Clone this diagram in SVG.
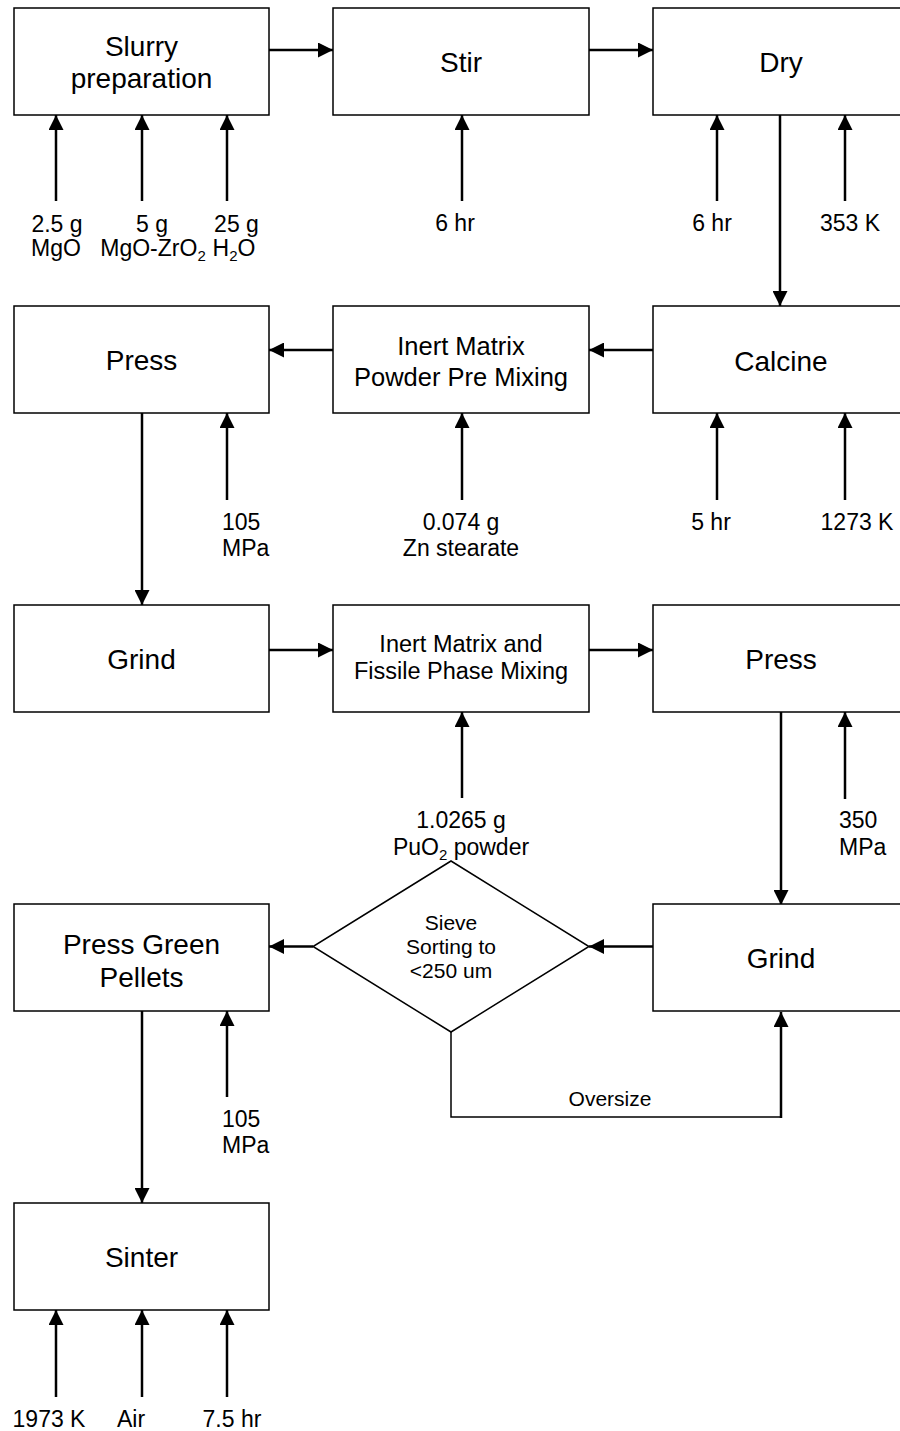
<svg xmlns="http://www.w3.org/2000/svg" width="900" height="1431" viewBox="0 0 900 1431">
<style>
text{font-family:"Liberation Sans",Arial,sans-serif;fill:#000}
.box{fill:#fff;stroke:#000;stroke-width:1.5}
.big{font-size:28px;text-anchor:middle}
.mid{font-size:25.5px;text-anchor:middle}
.sm{font-size:23.5px;text-anchor:middle}
.lab{font-size:23px}
.c{text-anchor:middle}
.dia{font-size:21px;text-anchor:middle}
.arr{stroke:#000;stroke-width:2.5;fill:none;marker-end:url(#ah)}
.thin{stroke:#000;stroke-width:1.5;fill:none}
</style>
<defs>
<marker id="ah" markerUnits="userSpaceOnUse" markerWidth="15" markerHeight="15" refX="15" refY="7.5" orient="auto" viewBox="0 0 15 15">
<path d="M0,0 L15,7.5 L0,15 z" fill="#000"/>
</marker>
</defs>
<rect width="900" height="1431" fill="#fff"/>

<g id="connectors">
<line class="arr" x1="269" y1="50" x2="333" y2="50"/>
<line class="arr" x1="589" y1="50" x2="653" y2="50"/>
<line class="arr" x1="56" y1="201" x2="56" y2="115"/>
<line class="arr" x1="142" y1="201" x2="142" y2="115"/>
<line class="arr" x1="227" y1="201" x2="227" y2="115"/>
<line class="arr" x1="462" y1="201" x2="462" y2="115"/>
<line class="arr" x1="717" y1="201" x2="717" y2="115"/>
<line class="arr" x1="845" y1="201" x2="845" y2="115"/>
<line class="arr" x1="780" y1="115" x2="780" y2="306"/>

<line class="arr" x1="653" y1="350" x2="589" y2="350"/>
<line class="arr" x1="333" y1="350" x2="269" y2="350"/>
<line class="arr" x1="227" y1="500" x2="227" y2="413"/>
<line class="arr" x1="462" y1="500" x2="462" y2="413"/>
<line class="arr" x1="717" y1="500" x2="717" y2="413"/>
<line class="arr" x1="845" y1="500" x2="845" y2="413"/>
<line class="arr" x1="142" y1="413" x2="142" y2="605"/>

<line class="arr" x1="269" y1="650" x2="333" y2="650"/>
<line class="arr" x1="589" y1="650" x2="653" y2="650"/>
<line class="arr" x1="462" y1="798" x2="462" y2="712"/>
<line class="arr" x1="845" y1="799" x2="845" y2="712"/>
<line class="arr" x1="781" y1="712" x2="781" y2="905"/>

<line class="arr" x1="653" y1="946.5" x2="589" y2="946.5"/>
<line class="arr" x1="313" y1="946.5" x2="269" y2="946.5"/>
<polyline class="thin" points="451,1032 451,1117 781,1117"/>
<line class="arr" x1="781" y1="1118" x2="781" y2="1012"/>
<line class="arr" x1="227" y1="1097" x2="227" y2="1011"/>
<line class="arr" x1="142" y1="1011" x2="142" y2="1203"/>

<line class="arr" x1="56" y1="1397" x2="56" y2="1310"/>
<line class="arr" x1="142" y1="1397" x2="142" y2="1310"/>
<line class="arr" x1="227" y1="1397" x2="227" y2="1310"/>
</g>

<g id="slurry">
<rect class="box" x="14" y="8" width="255" height="107"/>
<text class="big" x="141.5" y="56">Slurry</text>
<text class="big" x="141.5" y="88">preparation</text>
</g>
<g id="stir">
<rect class="box" x="333" y="8" width="256" height="107"/>
<text class="big" x="461" y="72">Stir</text>
</g>
<g id="dry">
<rect class="box" x="653" y="8" width="256" height="107"/>
<text class="big" x="781" y="72">Dry</text>
</g>

<g id="press1">
<rect class="box" x="14" y="306" width="255" height="107"/>
<text class="big" x="141.5" y="370">Press</text>
</g>
<g id="premix">
<rect class="box" x="333" y="306" width="256" height="107"/>
<text class="mid" x="461" y="355">Inert Matrix</text>
<text class="mid" x="461" y="386">Powder Pre Mixing</text>
</g>
<g id="calcine">
<rect class="box" x="653" y="306" width="256" height="107"/>
<text class="big" x="781" y="371">Calcine</text>
</g>

<g id="grind1">
<rect class="box" x="14" y="605" width="255" height="107"/>
<text class="big" x="141.5" y="669">Grind</text>
</g>
<g id="fissilemix">
<rect class="box" x="333" y="605" width="256" height="107"/>
<text class="sm" x="461" y="652">Inert Matrix and</text>
<text class="sm" x="461" y="679">Fissile Phase Mixing</text>
</g>
<g id="press2">
<rect class="box" x="653" y="605" width="256" height="107"/>
<text class="big" x="781" y="669">Press</text>
</g>

<g id="pressgreen">
<rect class="box" x="14" y="904" width="255" height="107"/>
<text class="big" x="141.5" y="954">Press Green</text>
<text class="big" x="141.5" y="987">Pellets</text>
</g>
<g id="sieve">
<polygon class="box" points="451,861 589,946.5 451,1032 313,946.5"/>
<text class="dia" x="451" y="930">Sieve</text>
<text class="dia" x="451" y="954">Sorting to</text>
<text class="dia" x="451" y="978">&lt;250 um</text>
</g>
<g id="grind2">
<rect class="box" x="653" y="904" width="256" height="107"/>
<text class="big" x="781" y="968">Grind</text>
</g>

<g id="sinter">
<rect class="box" x="14" y="1203" width="255" height="107"/>
<text class="big" x="141.5" y="1267">Sinter</text>
</g>

<g id="labels">
<text class="lab c" x="57" y="232">2.5 g</text>
<text class="lab c" x="56" y="256">MgO</text>
<text class="lab c" x="152" y="232">5 g</text>
<text class="lab c" x="153" y="256">MgO-ZrO<tspan font-size="15" dy="5">2</tspan></text>
<text class="lab c" x="236.5" y="232">25 g</text>
<text class="lab c" x="234" y="256">H<tspan font-size="15" dy="5">2</tspan><tspan dy="-5">O</tspan></text>
<text class="lab c" x="455" y="231">6 hr</text>
<text class="lab c" x="712" y="231">6 hr</text>
<text class="lab c" x="850" y="231">353 K</text>

<text class="lab" x="222" y="530">105</text>
<text class="lab" x="222" y="556">MPa</text>
<text class="lab c" x="461" y="530">0.074 g</text>
<text class="lab c" x="461" y="556">Zn stearate</text>
<text class="lab c" x="711" y="530">5 hr</text>
<text class="lab c" x="857" y="530">1273 K</text>

<text class="lab c" x="461" y="828">1.0265 g</text>
<text class="lab c" x="461" y="855">PuO<tspan font-size="15" dy="5">2</tspan><tspan dy="-5"> powder</tspan></text>
<text class="lab" x="839" y="828">350</text>
<text class="lab" x="839" y="855">MPa</text>

<text class="dia" x="610" y="1106">Oversize</text>
<text class="lab" x="222" y="1127">105</text>
<text class="lab" x="222" y="1153">MPa</text>

<text class="lab c" x="49" y="1427">1973 K</text>
<text class="lab c" x="131" y="1427">Air</text>
<text class="lab c" x="232" y="1427">7.5 hr</text>
</g>
</svg>
